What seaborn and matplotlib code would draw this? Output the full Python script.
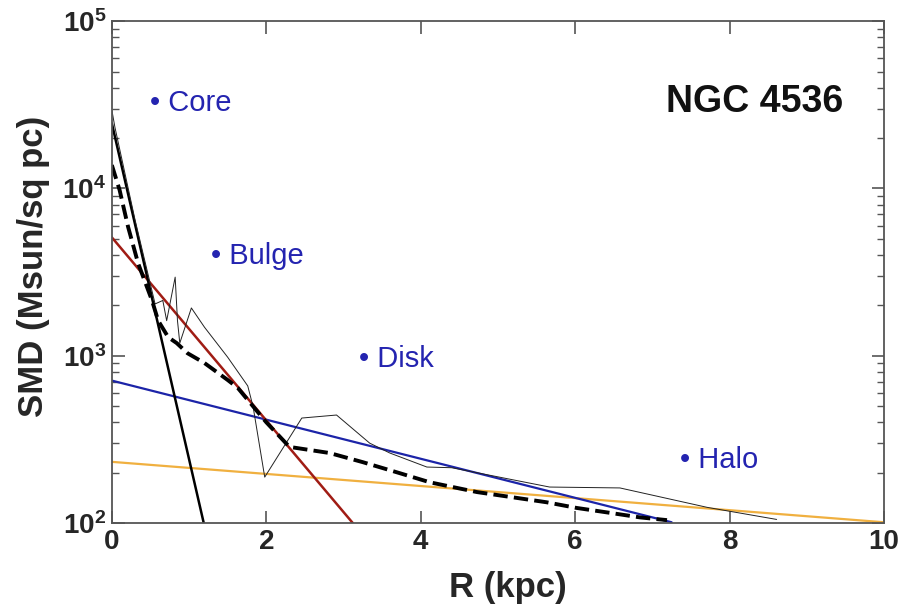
import numpy as np
import pandas as pd
import seaborn as sns
import matplotlib
matplotlib.use("Agg")
import matplotlib.pyplot as plt

# observed profile (thin line)
obs_r = [0.0, 0.04, 0.30, 0.56, 0.66, 0.71, 0.82, 0.85, 0.88, 1.03, 1.20, 1.50, 1.76, 1.83, 1.98,
         2.46, 2.91, 3.34, 3.60, 4.08, 4.40, 5.67, 6.58, 7.71, 8.61]
obs_smd = [29400, 23200, 6500, 2040, 2140, 1620, 2950, 1620, 1190, 1930, 1480, 980, 660, 494, 188,
           424, 442, 300, 262, 216, 214, 164, 162, 124, 105]

# smoothed profile (dashed)
tot_r = [0.0, 0.10, 0.21, 0.34, 0.52, 0.60, 0.73, 0.84, 0.98, 1.20, 1.50, 1.63, 2.00, 2.30, 2.82,
         3.25, 3.69, 4.12, 4.73, 5.63, 6.02, 6.45, 6.84, 7.19]
tot_smd = [13800, 9800, 5900, 3570, 2140, 1620, 1290, 1190, 1035, 904, 716, 643, 400, 285, 262,
           231, 201, 175, 153, 133, 123, 115, 108, 104]

# fitted components
core_r = [0.0, 1.19]
core_smd = [24500, 100]
bulge_r = [0.0, 3.12]
bulge_smd = [5100, 100]
disk_r = [0.0, 7.25]
disk_smd = [710, 101]
halo_r = [0.0, 10.0]
halo_smd = [232, 101]

labels = ["Core", "Bulge", "Disk", "Halo"]

sns.set_theme(style="ticks")
plt.rcParams["font.family"] = ["Liberation Sans", "DejaVu Sans"]
plt.rcParams["mathtext.fontset"] = "custom"
plt.rcParams["mathtext.rm"] = "Liberation Sans"
plt.rcParams["mathtext.bf"] = "Liberation Sans:bold"

fig = plt.figure(figsize=(9.02, 6.06), dpi=100)
ax = fig.add_axes([0.124, 0.137, 0.856, 0.828])

sns.lineplot(x=halo_r, y=halo_smd, color="#f0b040", lw=1.6, ax=ax)
sns.lineplot(x=disk_r, y=disk_smd, color="#1c24a8", lw=1.6, ax=ax)
sns.lineplot(x=bulge_r, y=bulge_smd, color="#a01c14", lw=1.8, ax=ax)
sns.lineplot(x=core_r, y=core_smd, color="black", lw=1.8, ax=ax)
sns.lineplot(x=obs_r, y=obs_smd, color="#222222", lw=0.7, sort=False, ax=ax)
sns.lineplot(x=tot_r, y=tot_smd, color="black", lw=2.8, ls="--", dashes=(3.2, 1.6), sort=False, ax=ax)

ax.set_yscale("log")
ax.set_xlim(0, 10)
ax.set_ylim(100, 1e5)

ax.set_xticks([0, 2, 4, 6, 8, 10])
ax.set_xticklabels(["0", "2", "4", "6", "8", "10"], fontsize=20, fontweight="bold")
ax.set_yticks([1e2, 1e3, 1e4, 1e5])
ax.set_yticklabels([r"$\mathbf{10^{2}}$", r"$\mathbf{10^{3}}$", r"$\mathbf{10^{4}}$", r"$\mathbf{10^{5}}$"],
                   fontsize=20)
ax.yaxis.set_minor_locator(matplotlib.ticker.LogLocator(base=10, subs=np.arange(2, 10)))
ax.yaxis.set_minor_formatter(matplotlib.ticker.NullFormatter())
ax.tick_params(axis="both", which="major", direction="in", length=9, width=1.2, color="#555555",
               top=True, right=True, pad=4)
ax.tick_params(axis="y", which="minor", direction="in", length=5, width=1.0, color="#555555",
               left=True, right=True)
ax.tick_params(axis="x", which="minor", bottom=False, top=False)
for s in ax.spines.values():
    s.set_color("#555555")
    s.set_linewidth(1.3)

ax.set_xlabel("R (kpc)", fontsize=25, fontweight="bold")
ax.set_ylabel("SMD (Msun/sq pc)", fontsize=25, fontweight="bold")
ax.xaxis.set_label_coords(0.513, -0.095)
ax.yaxis.set_label_coords(-0.080, 0.512)

for name, lx, ly in zip(labels, [0.49, 1.28, 3.20, 7.36], [32400, 3940, 955, 238]):
    ax.text(lx, ly, "\u2022 " + name, color="#2424b0", fontsize=21, ha="left", va="center")

ax.text(0.947, 0.838, "NGC 4536", transform=ax.transAxes, fontsize=27, fontweight="bold",
        ha="right", va="center", color="#111111")

fig.savefig("out.png", dpi=100)
